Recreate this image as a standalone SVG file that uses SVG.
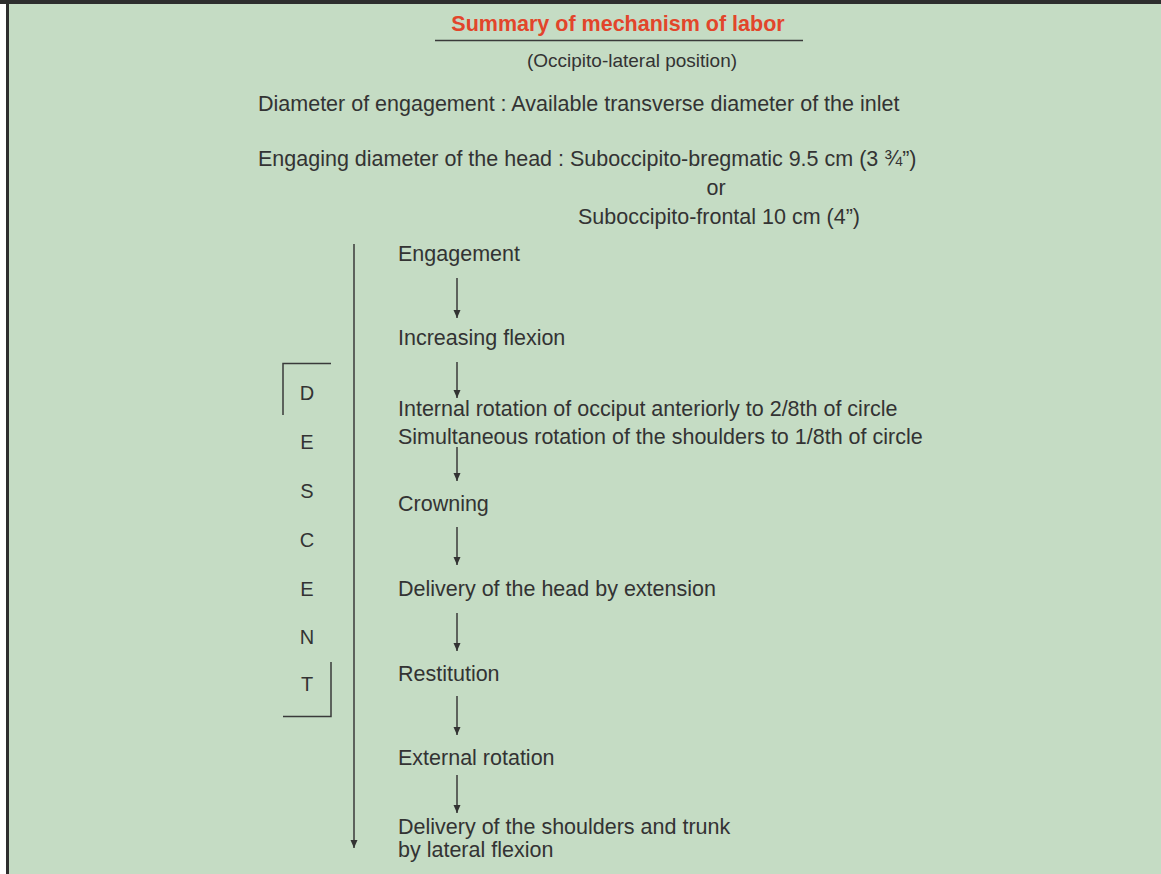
<svg xmlns="http://www.w3.org/2000/svg" width="1161" height="874" viewBox="0 0 1161 874">
<defs>
<style>
text{font-family:"Liberation Sans",Arial,sans-serif;fill:#333;font-size:21.5px}
.title{fill:#e2452b;font-weight:bold;font-size:21.5px}
.sub{font-size:19px}
.let{font-size:20px;text-anchor:middle}
.c{text-anchor:middle}
.ln{stroke:#3a3a3a;stroke-width:1.5;fill:none}
</style>
<marker id="ah" markerWidth="9" markerHeight="9" refX="8" refY="4" orient="auto" markerUnits="userSpaceOnUse">
<path d="M0,0.5 L8,4 L0,7.5 Z" fill="#333"/>
</marker>
</defs>
<rect x="0" y="0" width="1161" height="874" fill="#fff"/>
<rect x="8" y="4" width="1153" height="870" fill="#c5dcc4"/>
<rect x="0" y="0" width="1161" height="4" fill="#2e2e2e"/>
<rect x="6" y="0" width="3" height="874" fill="#2e2e2e"/>
<g id="header">
<text class="title c" x="618" y="31">Summary of mechanism of labor</text>
<line class="ln" x1="435" y1="40.5" x2="803" y2="40.5"/>
<text class="sub c" x="632" y="67">(Occipito-lateral position)</text>
<text x="258" y="111">Diameter of engagement : Available transverse diameter of the inlet</text>
<text x="258" y="166">Engaging diameter of the head : Suboccipito-bregmatic 9.5 cm (3 ¾”)</text>
<text class="c" x="716" y="195">or</text>
<text x="578" y="224">Suboccipito-frontal 10 cm (4”)</text>
</g>
<g id="steps">
<text id="s1" x="398" y="261">Engagement</text>
<text id="s2" x="398" y="345">Increasing flexion</text>
<text id="s3" x="398" y="416">Internal rotation of occiput anteriorly to 2/8th of circle</text>
<text id="s3b" x="398" y="444">Simultaneous rotation of the shoulders to 1/8th of circle</text>
<text id="s4" x="398" y="511">Crowning</text>
<text id="s5" x="398" y="596">Delivery of the head by extension</text>
<text id="s6" x="398" y="681">Restitution</text>
<text id="s7" x="398" y="765">External rotation</text>
<text id="s8" x="398" y="834">Delivery of the shoulders and trunk</text>
<text id="s8b" x="398" y="857">by lateral flexion</text>
</g>
<g id="descent">
<text class="let" x="307" y="400">D</text>
<text class="let" x="307" y="449">E</text>
<text class="let" x="307" y="498">S</text>
<text class="let" x="307" y="547">C</text>
<text class="let" x="307" y="596">E</text>
<text class="let" x="307" y="644">N</text>
<text class="let" x="307" y="691">T</text>
<path class="ln" d="M283,415 V363.5 H331"/>
<path class="ln" d="M331,662 V716.5 H283"/>
</g>
<g id="connectors">
<line class="ln" x1="354" y1="244" x2="354" y2="848" marker-end="url(#ah)"/>
<line class="ln" x1="457" y1="278" x2="457" y2="318" marker-end="url(#ah)"/>
<line class="ln" x1="457" y1="362" x2="457" y2="398" marker-end="url(#ah)"/>
<line class="ln" x1="457" y1="447" x2="457" y2="481" marker-end="url(#ah)"/>
<line class="ln" x1="457" y1="527" x2="457" y2="565" marker-end="url(#ah)"/>
<line class="ln" x1="457" y1="613" x2="457" y2="651" marker-end="url(#ah)"/>
<line class="ln" x1="457" y1="696" x2="457" y2="735" marker-end="url(#ah)"/>
<line class="ln" x1="457" y1="775" x2="457" y2="813" marker-end="url(#ah)"/>
</g>
</svg>
